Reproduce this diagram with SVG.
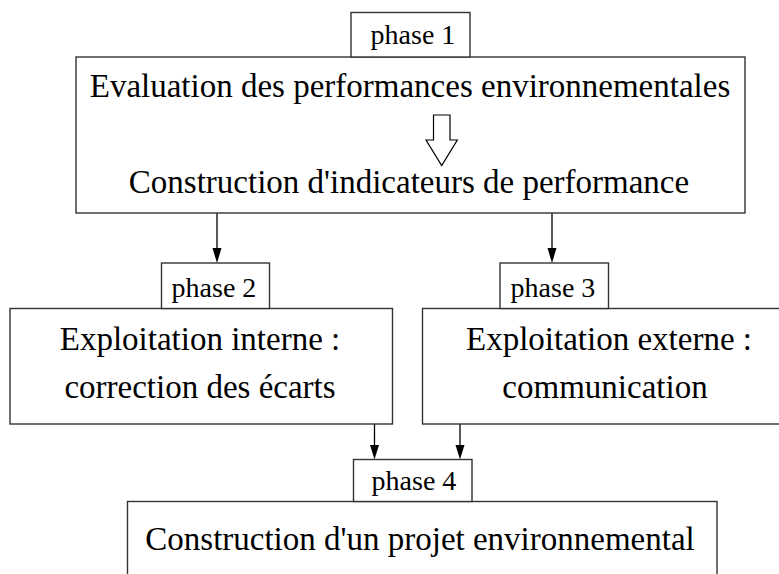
<svg xmlns="http://www.w3.org/2000/svg" width="779" height="574" viewBox="0 0 779 574">
<defs>
<style>
.box{fill:#fff;stroke:#333;stroke-width:1.4}
.t{font-family:"Liberation Serif","Times New Roman",serif;font-size:33px;fill:#000;text-anchor:middle}
.p{font-family:"Liberation Serif","Times New Roman",serif;font-size:28px;fill:#000;text-anchor:middle}
.c{stroke:#000;stroke-width:1.3;fill:none}
</style>
<marker id="ah" markerUnits="userSpaceOnUse" markerWidth="10" markerHeight="16" refX="5" refY="15" orient="auto-start-reverse" viewBox="0 0 10 16">
<path d="M0,0 L10,0 L5,15 Z" fill="#000" transform="rotate(0)"/>
</marker>
</defs>
<rect width="779" height="574" fill="#fff"/>
<g id="connectors">
<line class="c" x1="217" y1="213" x2="217" y2="248"/>
<polygon points="212.5,248 221.5,248 217,263" fill="#000"/>
<line class="c" x1="552" y1="213" x2="552" y2="248"/>
<polygon points="547.5,248 556.5,248 552,263" fill="#000"/>
<line class="c" x1="374.5" y1="424" x2="374.5" y2="445"/>
<polygon points="370,445 379,445 374.5,459.5" fill="#000"/>
<line class="c" x1="460" y1="424" x2="460" y2="445"/>
<polygon points="455.5,445 464.5,445 460,459.5" fill="#000"/>
</g>
<g id="node-phase1-main">
<rect class="box" x="76" y="57" width="669" height="156"/>
<text class="t" x="410" y="96.5">Evaluation des performances environnementales</text>
<polygon points="433.5,115 450,115 450,140 457.3,140 441.7,165.5 426,140 433.5,140" fill="#fff" stroke="#000" stroke-width="1.2"/>
<text class="t" x="409" y="193">Construction d'indicateurs de performance</text>
</g>
<g id="node-phase1">
<rect class="box" x="351" y="12.5" width="119" height="44.5"/>
<text class="p" x="413" y="43.5">phase 1</text>
</g>
<g id="node-phase2-main">
<rect class="box" x="10" y="308.5" width="382.5" height="115.5"/>
<text class="t" x="200" y="350">Exploitation interne :</text>
<text class="t" x="200" y="397.5">correction des écarts</text>
</g>
<g id="node-phase2">
<rect class="box" x="161.5" y="263" width="108" height="45.5"/>
<text class="p" x="214" y="297">phase 2</text>
</g>
<g id="node-phase3-main">
<rect class="box" x="422.5" y="308.5" width="380" height="115.5"/>
<text class="t" x="609" y="350">Exploitation externe :</text>
<text class="t" x="605" y="397.5">communication</text>
</g>
<g id="node-phase3">
<rect class="box" x="500" y="263" width="108.5" height="45.5"/>
<text class="p" x="553" y="297">phase 3</text>
</g>
<g id="node-phase4-main">
<rect class="box" x="127.5" y="501.5" width="589.5" height="100"/>
<text class="t" x="420" y="549.5">Construction d'un projet environnemental</text>
</g>
<g id="node-phase4">
<rect class="box" x="353.5" y="459.5" width="118.5" height="42"/>
<text class="p" x="414" y="489.5">phase 4</text>
</g>
</svg>
